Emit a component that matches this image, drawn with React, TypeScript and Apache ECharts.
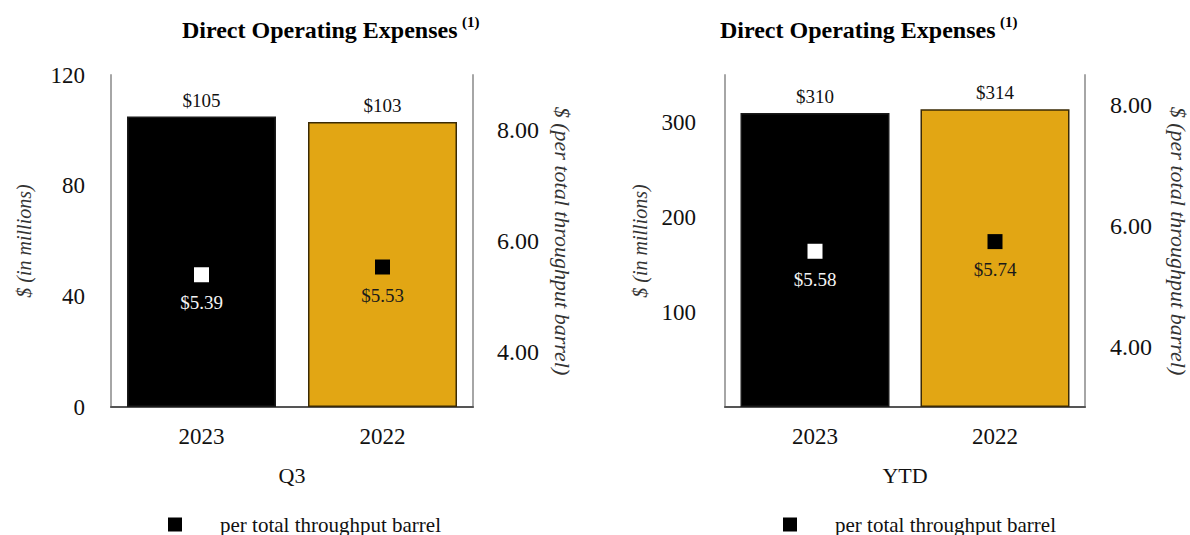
import React, { useEffect, useRef } from "react";
import * as echarts from "echarts";

const categories = ["2023", "2022"];
const periods = ["Q3", "YTD"];
const q3Totals = [105, 103];
const q3PerBarrel = [5.39, 5.53];
const ytdTotals = [310, 314];
const ytdPerBarrel = [5.58, 5.74];
const q3LeftTicks = [0, 40, 80, 120];
const ytdLeftTicks = [100, 200, 300];
const rightTicks = [4, 6, 8];
const barColors = ["#000000", "#E2A614"];
const barBorders = ["#1a1a1a", "#3a2a05"];
const markerColors = ["#FFFFFF", "#000000"];
const markerLabelColors = ["#F4F4F4", "#1a1a1a"];
const titleText = "Direct Operating Expenses";
const footnote = "(1)";
const legendLabel = "per total throughput barrel";
const leftAxisName = "$ (in millions)";
const rightAxisName = "$ (per total throughput barrel)";

const FONT = "Liberation Serif";

export default function App() {
  const ref = useRef<HTMLDivElement>(null);
  useEffect(() => {
    if (!ref.current) return;
    const chart = echarts.init(ref.current, null, { renderer: "svg" });
    const gridLefts = [111, 725];
    const axisGray = "#a6a6a6";

    const titles = [177, 715].map((left) => ({
      text: `{t|${titleText}} {s|${footnote}}`,
      left,
      top: 9,
      textStyle: {
        rich: {
          t: { fontFamily: FONT, fontWeight: "bold", fontSize: 24, color: "#000", lineHeight: 28, verticalAlign: "bottom" },
          s: { fontFamily: FONT, fontWeight: "bold", fontSize: 15, color: "#000", verticalAlign: "top", lineHeight: 28 },
        },
      },
    }));

    const grids = gridLefts.map((left) => ({ left, top: 75, width: 362, height: 332 }));

    const xAxes = [0, 1].map((i) => ({
      type: "category",
      gridIndex: i,
      data: categories,
      axisLine: { lineStyle: { color: "#555", width: 2 } },
      axisTick: { show: false },
      axisLabel: { fontFamily: FONT, fontSize: 23, color: "#111", margin: 18 },
      name: periods[i],
      nameLocation: "middle",
      nameGap: 57,
      nameTextStyle: { fontFamily: FONT, fontSize: 22, color: "#111" },
    }));

    const leftName = {
      name: leftAxisName,
      nameLocation: "middle",
      nameRotate: 90,
      nameTextStyle: { fontFamily: FONT, fontStyle: "italic", fontSize: 20, color: "#333" },
    };
    const rightName = {
      name: rightAxisName,
      nameLocation: "middle",
      nameRotate: -90,
      nameTextStyle: { fontFamily: FONT, fontStyle: "italic", fontSize: 22, color: "#333" },
    };
    const yCommon = {
      type: "value",
      splitLine: { show: false },
      axisTick: { show: false },
      axisLine: { show: true, lineStyle: { color: axisGray, width: 2 } },
    };

    const yAxes = [
      {
        ...yCommon,
        ...leftName,
        gridIndex: 0,
        position: "left",
        min: 0,
        max: 120,
        interval: 40,
        nameGap: 77,
        axisLabel: { customValues: q3LeftTicks, fontFamily: FONT, fontSize: 23, color: "#111", margin: 26 },
      },
      {
        ...yCommon,
        ...rightName,
        gridIndex: 0,
        position: "right",
        min: 3,
        max: 9,
        interval: 1,
        nameGap: 78,
        axisLabel: {
          customValues: rightTicks,
          formatter: (v: number) => v.toFixed(2),
          fontFamily: FONT,
          fontSize: 24,
          color: "#111",
          margin: 24,
        },
      },
      {
        ...yCommon,
        ...leftName,
        gridIndex: 1,
        position: "left",
        min: 0,
        max: 350,
        interval: 50,
        nameGap: 75,
        axisLabel: { customValues: ytdLeftTicks, fontFamily: FONT, fontSize: 23, color: "#111", margin: 29 },
      },
      {
        ...yCommon,
        ...rightName,
        gridIndex: 1,
        position: "right",
        min: 3,
        max: 8.5,
        interval: 0.5,
        nameGap: 82,
        axisLabel: {
          customValues: rightTicks,
          formatter: (v: number) => v.toFixed(2),
          fontFamily: FONT,
          fontSize: 24,
          color: "#111",
          margin: 25,
        },
      },
    ];

    const barSeries = (totals: number[], idx: number) => ({
      type: "bar",
      name: "total",
      xAxisIndex: idx,
      yAxisIndex: idx * 2,
      barWidth: 149,
      data: totals.map((v, i) => ({
        value: v,
        itemStyle: { color: barColors[i], borderColor: barBorders[i], borderWidth: 1.5 },
      })),
      label: {
        show: true,
        position: "top",
        distance: 7,
        formatter: (p: any) => `$${p.value}`,
        fontFamily: FONT,
        fontSize: 19,
        color: "#111",
      },
    });

    const markerSeries = (vals: number[], idx: number) => ({
      type: "scatter",
      name: legendLabel,
      xAxisIndex: idx,
      yAxisIndex: idx * 2 + 1,
      symbol: "rect",
      symbolSize: 15,
      itemStyle: { color: "#000", opacity: 1 },
      z: 5,
      data: vals.map((v, i) => ({
        value: v,
        itemStyle: { color: markerColors[i], opacity: 1 },
        label: { color: markerLabelColors[i] },
      })),
      label: {
        show: true,
        position: "bottom",
        distance: 11,
        formatter: (p: any) => `$${Number(p.value).toFixed(2)}`,
        fontFamily: FONT,
        fontSize: 19,
      },
    });

    const legends = [168, 783].map((left) => ({
      left,
      top: 514,
      padding: 0,
      data: [legendLabel],
      icon: "rect",
      itemWidth: 14,
      itemHeight: 14,
      selectedMode: false,
      textStyle: { fontFamily: FONT, fontSize: 21, lineHeight: 20, color: "#111", padding: [0, 0, 0, 33] },
    }));

    chart.setOption({
      animation: false,
      backgroundColor: "#fff",
      textStyle: { fontFamily: FONT },
      title: titles,
      grid: grids,
      xAxis: xAxes,
      yAxis: yAxes,
      legend: legends,
      series: [
        barSeries(q3Totals, 0),
        markerSeries(q3PerBarrel, 0),
        barSeries(ytdTotals, 1),
        markerSeries(ytdPerBarrel, 1),
      ],
    });
    return () => chart.dispose();
  }, []);

  return (
    <div
      ref={ref}
      style={{ position: "fixed", left: 0, top: 0, width: 1190, height: 535, background: "#fff" }}
    />
  );
}
